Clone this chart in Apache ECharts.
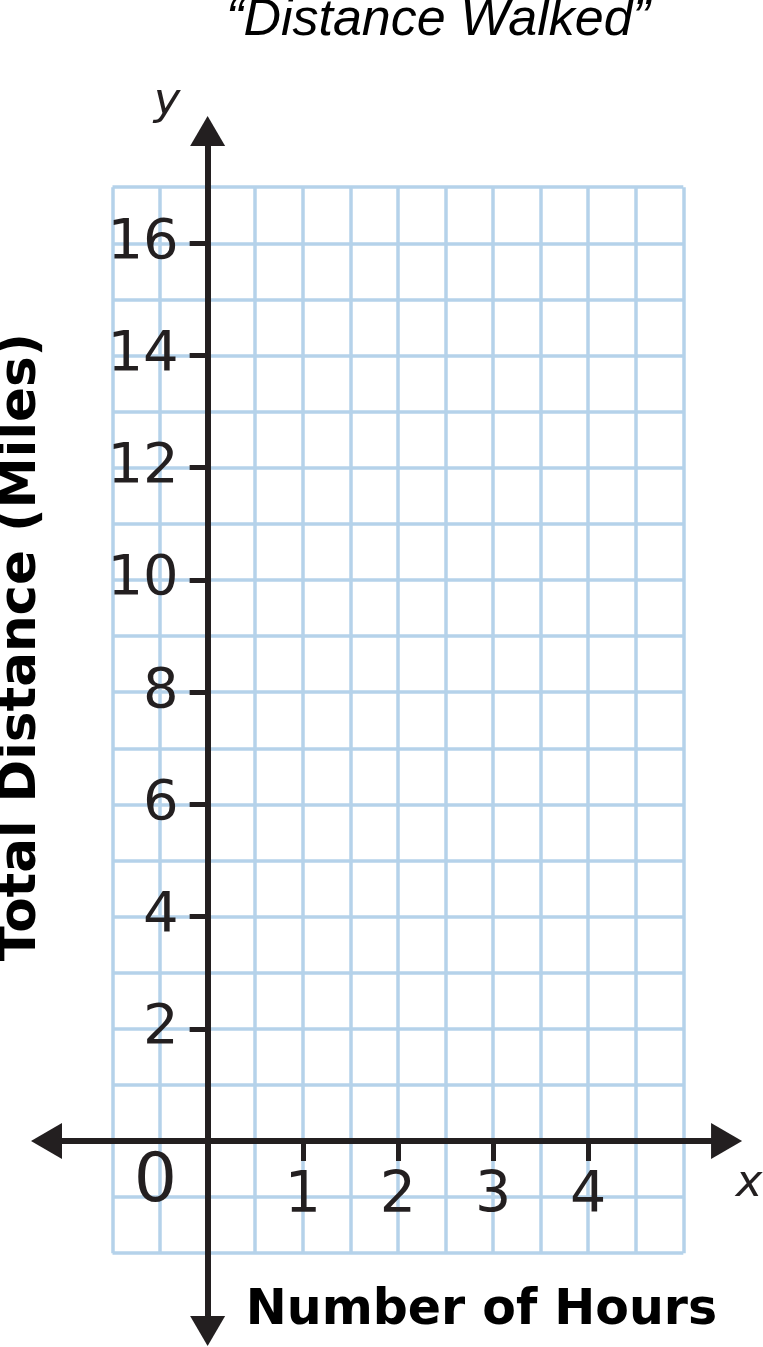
<!DOCTYPE html>
<html>
<head>
<meta charset="utf-8">
<script src="https://cdn.jsdelivr.net/npm/echarts@6/dist/echarts.min.js"></script>
<style>
html,body{margin:0;padding:0;background:#fff;}
#chart{width:763px;height:1347px;}
</style>
</head>
<body>
<div id="chart"></div>
<script>
// ---- data ----
const chartTitle = '“Distance Walked”';
const xAxisTitle = 'Number of Hours';
const yAxisTitle = 'Total Distance (Miles)';
const xAxisLetter = 'x';
const yAxisLetter = 'y';
const originLabel = '0';
const xTickValues = [1, 2, 3, 4];
const yTickValues = [2, 4, 6, 8, 10, 12, 14, 16];
const gridXRange = [-1, 5];
const gridXStep = 0.5;
const gridYRange = [-2, 17];
const gridYStep = 1;
const distanceData = []; // the grid is blank: no plotted points

// ---- layout ----
const W = 763, H = 1347;
const gA = { left: 112.5, right: 79.7, top: 187.2, bottom: 93.8 };
const pxX = (W - gA.left - gA.right) / (gridXRange[1] - gridXRange[0]);
const pxY = (H - gA.top - gA.bottom) / (gridYRange[1] - gridYRange[0]);
// axis (black) extents, in data units
const axXRange = [-1.694, 5.455];
const axYRange = [-3.387, 18.0];
const gB = {
  left: gA.left + (axXRange[0] - gridXRange[0]) * pxX,
  right: gA.right - (axXRange[1] - gridXRange[1]) * pxX,
  top: gA.top - (axYRange[1] - gridYRange[1]) * pxY,
  bottom: gA.bottom - (gridYRange[0] - axYRange[0]) * pxY
};
// shift the black axes from the grid edge to the zero lines
const yAxisShift = -(0 - axXRange[0]) * pxX;
const xAxisShift = -(0 - axYRange[0]) * pxY;

const INK = '#231f20';
const BLUE = '#b5d2ea';
const numFont = 'DejaVu Sans';

const chart = echarts.init(document.getElementById('chart'), null, { renderer: 'canvas' });

chart.setOption({
  backgroundColor: '#ffffff',
  animation: false,
  grid: [
    { left: gA.left, right: gA.right, top: gA.top, bottom: gA.bottom, containLabel: false, outerBoundsMode: 'none' },
    { left: gB.left, right: gB.right, top: gB.top, bottom: gB.bottom, containLabel: false, outerBoundsMode: 'none' }
  ],
  xAxis: [
    {
      type: 'value', gridIndex: 0, min: gridXRange[0], max: gridXRange[1], interval: gridXStep,
      axisLine: { show: false }, axisTick: { show: false }, axisLabel: { show: false },
      splitLine: { show: true, lineStyle: { color: BLUE, width: 3.5 } }, z: 1
    },
    {
      type: 'value', gridIndex: 1, min: axXRange[0], max: axXRange[1],
      position: 'bottom', offset: xAxisShift,
      axisLine: {
        show: true, onZero: false,
        lineStyle: { color: INK, width: 6 },
        symbol: ['triangle', 'triangle'], symbolSize: [36, 31]
      },
      axisTick: { show: true, customValues: xTickValues, length: 20, lineStyle: { color: INK, width: 5 } },
      axisLabel: { show: true, customValues: xTickValues, fontSize: 57, fontFamily: numFont, color: INK, margin: 28 },
      splitLine: { show: false }, z: 5
    }
  ],
  yAxis: [
    {
      type: 'value', gridIndex: 0, min: gridYRange[0], max: gridYRange[1], interval: gridYStep,
      axisLine: { show: false }, axisTick: { show: false }, axisLabel: { show: false },
      splitLine: { show: true, lineStyle: { color: BLUE, width: 3.5 } }, z: 1
    },
    {
      type: 'value', gridIndex: 1, min: axYRange[0], max: axYRange[1],
      position: 'left', offset: yAxisShift,
      axisLine: {
        show: true, onZero: false,
        lineStyle: { color: INK, width: 6 },
        symbol: ['triangle', 'triangle'], symbolSize: [35, 30]
      },
      axisTick: { show: true, customValues: yTickValues, length: 18, lineStyle: { color: INK, width: 5 } },
      axisLabel: { show: true, customValues: yTickValues, fontSize: 56, fontFamily: numFont, color: INK, margin: 29 },
      splitLine: { show: false }, z: 5
    }
  ],
  series: [
    { type: 'scatter', xAxisIndex: 1, yAxisIndex: 1, data: distanceData }
  ],
  graphic: [
    { type: 'text', x: 438, y: 21, z: 10,
      style: { text: chartTitle, fontSize: 52, fontStyle: 'italic', fontFamily: 'Liberation Sans', fill: '#000', align: 'center', verticalAlign: 'middle' } },
    { type: 'text', x: 167, y: 102, z: 10,
      style: { text: yAxisLetter, fontSize: 45, fontStyle: 'italic', fontFamily: numFont, fill: INK, align: 'center', verticalAlign: 'middle' } },
    { type: 'text', x: 749, y: 1184, z: 10,
      style: { text: xAxisLetter, fontSize: 45, fontStyle: 'italic', fontFamily: numFont, fill: INK, align: 'center', verticalAlign: 'middle' } },
    { type: 'text', x: 155.5, y: 1183, z: 10,
      style: { text: originLabel, fontSize: 68, fontFamily: numFont, fill: INK, align: 'center', verticalAlign: 'middle' } },
    { type: 'text', x: 481.5, y: 1311, z: 10,
      style: { text: xAxisTitle, fontSize: 49, fontWeight: 'bold', fontFamily: numFont, fill: '#000', align: 'center', verticalAlign: 'middle' } },
    { type: 'text', x: 22, y: 647, rotation: Math.PI / 2, z: 10,
      style: { text: yAxisTitle, fontSize: 51.5, fontWeight: 'bold', fontFamily: numFont, fill: '#000', align: 'center', verticalAlign: 'middle' } }
  ]
});
</script>
</body>
</html>
